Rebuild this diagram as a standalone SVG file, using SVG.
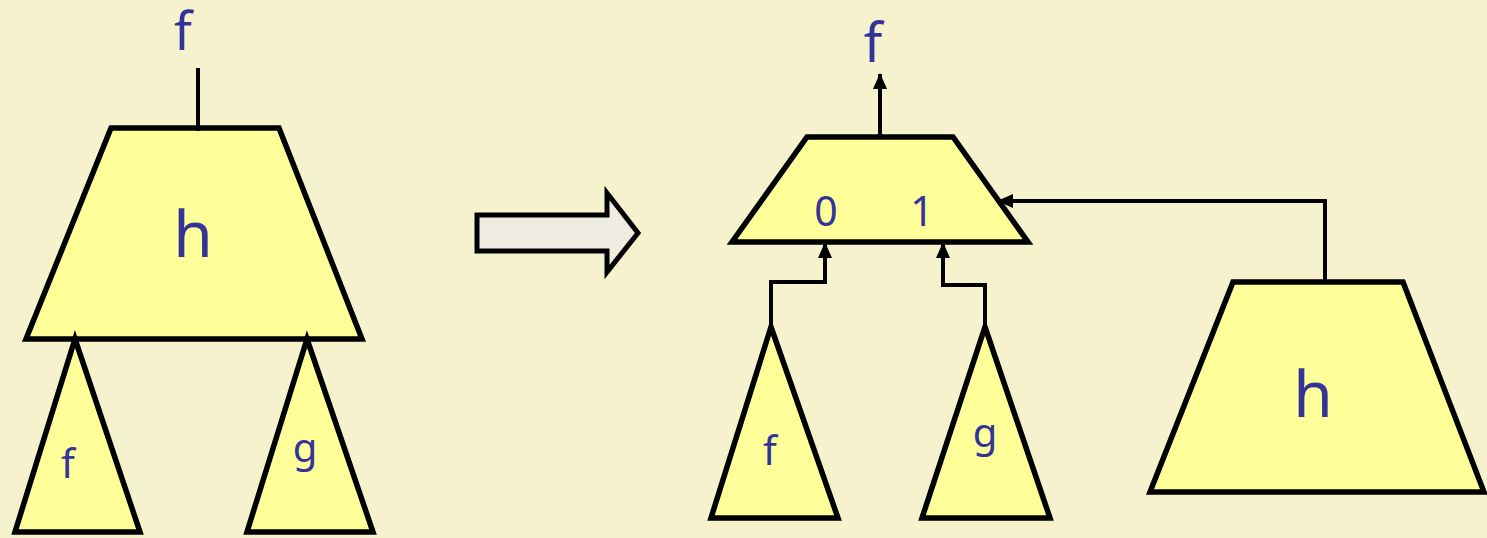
<svg xmlns="http://www.w3.org/2000/svg" width="1487" height="538" viewBox="0 0 1487 538">
  <defs>
    <style>
      .shape { fill: #FFFF99; stroke: #000; stroke-width: 5.5; stroke-linejoin: miter; }
      .wire { fill: none; stroke: #000; stroke-width: 4; }
      .lbl { font-family: "Noto Sans", "Open Sans", sans-serif; fill: #333399; text-anchor: middle; }
    </style>
    <marker id="head" markerUnits="userSpaceOnUse" markerWidth="16" markerHeight="16" viewBox="0 0 16 16" refX="15" refY="8" orient="auto">
      <path d="M0,1 L16,8 L0,15 Z" fill="#000"/>
    </marker>
  </defs>
  <rect width="1487" height="538" fill="#F6F2CE"/>

  <!-- original tree: h over subtrees f and g -->
  <g id="left-out">
    <text class="lbl" x="183" y="50" font-size="52">f</text>
  </g>
  <g id="left-h">
    <polygon class="shape" points="111,128 279,128 362,339 26,339"/>
    <text class="lbl" x="193" y="257" font-size="64">h</text>
  </g>
  <g id="left-f">
    <polygon class="shape" points="75,339 140,532 15,532"/>
    <text class="lbl" x="68" y="478" font-size="40">f</text>
  </g>
  <g id="left-g">
    <polygon class="shape" points="307,339 373,532 247,532"/>
    <text class="lbl" x="305" y="462" font-size="40">g</text>
  </g>

  <!-- transformation arrow -->
  <g id="transform-arrow">
    <polygon points="477,215 607,215 607,193 638,233 607,272 607,251 477,251" fill="#EEEBE0" stroke="#000" stroke-width="5"/>
  </g>

  <!-- rewritten form: multiplexer selected by h -->
  <g id="right-out">
    <text class="lbl" x="873" y="62" font-size="54">f</text>
  </g>
  <g id="mux">
    <polygon class="shape" points="807,137 953,137 1028,242 732,242"/>
    <text class="lbl" x="826" y="226" font-size="41">0</text>
    <text class="lbl" x="922" y="226" font-size="41">1</text>
  </g>
  <g id="right-f">
    <polygon class="shape" points="771,327 838,518 711,518"/>
    <text class="lbl" x="770" y="465" font-size="40">f</text>
  </g>
  <g id="right-g">
    <polygon class="shape" points="985,327 1050,518 922,518"/>
    <text class="lbl" x="985" y="447" font-size="40">g</text>
  </g>
  <g id="right-h">
    <polygon class="shape" points="1233,282 1403,282 1484,492 1150,492"/>
    <text class="lbl" x="1313" y="417" font-size="64">h</text>
  </g>

  <g id="connectors">
    <line class="wire" x1="198" y1="68" x2="198" y2="131"/>
    <line class="wire" x1="880" y1="135" x2="880" y2="74" marker-end="url(#head)"/>
    <polyline class="wire" points="771,325 771,282 825,282 825,243" marker-end="url(#head)"/>
    <polyline class="wire" points="985,325 985,285 943,285 943,243" marker-end="url(#head)"/>
    <polyline class="wire" points="1325,281 1325,201 998,201" marker-end="url(#head)"/>
  </g>
</svg>
